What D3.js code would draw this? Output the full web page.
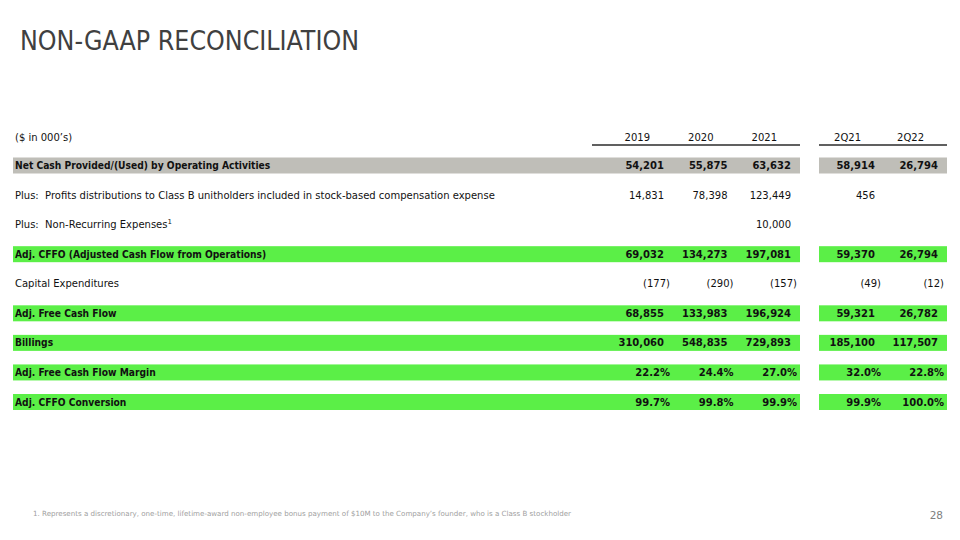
<!DOCTYPE html>
<html>
<head>
<meta charset="utf-8">
<script src="https://cdn.jsdelivr.net/npm/d3@7"></script>
<style>
  body { margin: 0; background: #fff; }
  svg text { font-family: "DejaVu Sans", sans-serif; white-space: pre; }
  svg text.narrow { font-family: "DejaVu Sans Condensed", "DejaVu Sans", sans-serif; font-stretch: condensed; }
</style>
</head>
<body>
<svg id="slide" width="960" height="540"></svg>
<script>
// columns of the table
var annualCols = ["2019", "2020", "2021"];
var quarterCols = ["2Q21", "2Q22"];

var rowLabels = [
  "Net Cash Provided/(Used) by Operating Activities",
  "Plus:  Profits distributions to Class B unitholders included in stock-based compensation expense",
  "Plus:  Non-Recurring Expenses",
  "Adj. CFFO (Adjusted Cash Flow from Operations)",
  "Capital Expenditures",
  "Adj. Free Cash Flow",
  "Billings",
  "Adj. Free Cash Flow Margin",
  "Adj. CFFO Conversion"
];

// values per row: 2019, 2020, 2021, 2Q21, 2Q22 (null = blank)
var netCash      = [54201, 55875, 63632, 58914, 26794];
var profitsDist  = [14831, 78398, 123449, 456, null];
var nonRecurring = [null, null, 10000, null, null];
var adjCffo      = [69032, 134273, 197081, 59370, 26794];
var capex        = [-177, -290, -157, -49, -12];
var adjFcf       = [68855, 133983, 196924, 59321, 26782];
var billings     = [310060, 548835, 729893, 185100, 117507];
var fcfMargin    = [22.2, 24.4, 27.0, 32.0, 22.8];
var cffoConv     = [99.7, 99.8, 99.9, 99.9, 100.0];

var rowValues = [netCash, profitsDist, nonRecurring, adjCffo, capex, adjFcf, billings, fcfMargin, cffoConv];
var percentRows = [7, 8];
var grayRows = [0];
var greenRows = [3, 5, 6, 7, 8];

var svg = d3.select("#slide");

svg.append("text")
  .attr("class", "narrow")
  .attr("x", 20).attr("y", 50)
  .attr("font-size", 26.5)
  .attr("fill", "#404040")
  .text("NON-GAAP RECONCILIATION");

// scales
var y = d3.scalePoint().domain(d3.range(rowLabels.length)).range([165.5, 402]);
var xAnnual = d3.scalePoint().domain(annualCols).range([670, 797]);
var xQuarter = d3.scalePoint().domain(quarterCols).range([881, 944]);
var colRight = function(i) {
  return i < 3 ? xAnnual(annualCols[i]) : xQuarter(quarterCols[i - 3]);
};
var allCols = annualCols.concat(quarterCols);

// header
svg.append("text")
  .attr("x", 15).attr("y", 141)
  .attr("font-size", 10).attr("fill", "#111")
  .text("($ in 000\u2019s)");

svg.selectAll(".colhead")
  .data(allCols)
  .enter().append("text")
  .attr("class", "colhead")
  .attr("x", function(d, i) { return colRight(i) - 20; })
  .attr("y", 141)
  .attr("text-anchor", "end")
  .attr("font-size", 10).attr("fill", "#111")
  .text(function(d) { return d; });

var groups = [[592, 800], [819, 947]];
svg.selectAll(".rule")
  .data(groups)
  .enter().append("line")
  .attr("x1", function(d) { return d[0]; })
  .attr("x2", function(d) { return d[1]; })
  .attr("y1", 145).attr("y2", 145)
  .attr("stroke", "#606060").attr("stroke-width", 2);

// row bands
var bandH = 16;
rowLabels.forEach(function(label, r) {
  var fill = grayRows.indexOf(r) >= 0 ? "#bfbeb8" : (greenRows.indexOf(r) >= 0 ? "#5bef47" : null);
  if (!fill) return;
  svg.selectAll(".band" + r)
    .data(groups)
    .enter().append("rect")
    .attr("x", function(d) { return d[0] === 592 ? 13 : d[0]; })
    .attr("width", function(d) { return d[1] - (d[0] === 592 ? 13 : d[0]); })
    .attr("y", y(r) - bandH / 2)
    .attr("height", bandH)
    .attr("fill", fill);
});

var bold = function(r) { return grayRows.indexOf(r) >= 0 || greenRows.indexOf(r) >= 0; };

// row labels
var labels = svg.selectAll(".label")
  .data(rowLabels)
  .enter().append("text")
  .attr("class", function(d, i) { return bold(i) ? "label narrow" : "label"; })
  .attr("x", 15)
  .attr("y", function(d, i) { return y(i) + 3.5; })
  .attr("font-size", function(d, i) { return bold(i) ? 10.2 : 10; })
  .attr("font-weight", function(d, i) { return bold(i) ? "bold" : "normal"; })
  .attr("fill", "#111")
  .text(function(d) { return d; });

labels.filter(function(d, i) { return i === 2; })
  .append("tspan")
  .attr("font-size", 7).attr("dy", -4)
  .text("1");

// values
var fmt = d3.format(",");
rowValues.forEach(function(vals, r) {
  var isPct = percentRows.indexOf(r) >= 0;
  var cells = vals.map(function(v, i) { return { v: v, col: i }; })
    .filter(function(c) { return c.v !== null; });
  svg.selectAll(".val" + r)
    .data(cells)
    .enter().append("text")
    .attr("x", function(c) { return colRight(c.col) - (isPct || c.v < 0 ? 0 : 6); })
    .attr("y", y(r) + 3.5)
    .attr("text-anchor", "end")
    .attr("font-size", 10)
    .attr("font-weight", bold(r) ? "bold" : "normal")
    .attr("fill", "#111")
    .text(function(c) {
      if (isPct) return c.v.toFixed(1) + "%";
      return c.v < 0 ? "(" + fmt(-c.v) + ")" : fmt(c.v);
    });
});

// footnote and page number
svg.append("text")
  .attr("x", 33).attr("y", 516)
  .attr("font-size", 7.1).attr("fill", "#a0a0a0")
  .text("1. Represents a discretionary, one-time, lifetime-award non-employee bonus payment of $10M to the Company\u2019s founder, who is a Class B stockholder");

svg.append("text")
  .attr("x", 943).attr("y", 519)
  .attr("text-anchor", "end")
  .attr("font-size", 10.5).attr("fill", "#7f7f7f")
  .text("28");
</script>
</body>
</html>
